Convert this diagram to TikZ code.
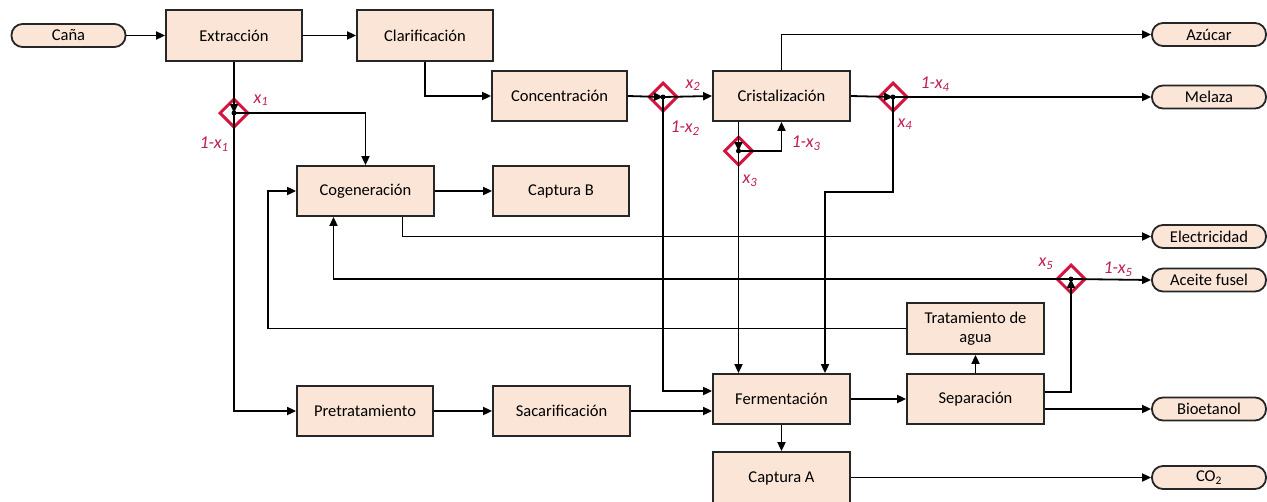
\documentclass[tikz,border=0pt]{standalone}
\usepackage{fontspec}
\setmainfont{Carlito}
\usetikzlibrary{arrows.meta,shapes.geometric,calc}
\definecolor{boxfill}{RGB}{251,229,214}
\definecolor{splitred}{RGB}{212,20,62}
\definecolor{lblred}{RGB}{192,30,78}
\begin{document}
\begin{tikzpicture}[x=1pt,y=-1pt,
  font=\fontsize{16.5}{19.5}\selectfont,
  proc/.style={draw=black!85, line width=1.8pt, fill=boxfill, minimum width=137pt, minimum height=50pt, inner sep=0pt, align=center},
  term/.style={draw=black!85, line width=1.8pt, fill=boxfill, rounded corners=11pt, minimum width=114pt, minimum height=23pt, inner sep=0pt},
  split/.style={diamond, draw=splitred, line width=3pt, minimum width=29pt, minimum height=29pt, inner sep=0pt},
  flow/.style={line width=1.8pt, -{Triangle[length=9pt,width=8pt]}},
  lbl/.style={text=lblred, font=\fontsize{18}{20}\selectfont\itshape, inner sep=0pt},
  dot/.style={circle, fill=black, minimum size=5pt, inner sep=0pt}]
\useasboundingbox (0,0) rectangle (1267,501);

% process boxes
\node[term] (cana) at (68.5,35.5) {Caña};
\node[proc, minimum width=136pt, minimum height=51pt] (extr) at (234,35.5) {Extracción};
\node[proc, minimum width=136pt, minimum height=51pt] (clar) at (425,35.5) {Clarificación};
\node[proc, minimum width=135pt] (conc) at (559.5,96) {Concentración};
\node[proc] (cris) at (781.5,96) {Cristalización};
\node[proc] (cogen) at (365.5,191) {Cogeneración};
\node[proc, minimum width=136pt] (captB) at (561,191) {Captura B};
\node[proc, minimum height=51pt] (trat) at (975.5,328.5) {Tratamiento de\\agua};
\node[proc] (ferm) at (781.5,399) {Fermentación};
\node[proc] (sep) at (975.5,399) {Separación};
\node[proc, minimum width=136pt] (pretr) at (365,411) {Pretratamiento};
\node[proc] (sacar) at (561.5,411) {Sacarificación};
\node[proc, minimum height=52pt] (captA) at (781.5,478) {Captura A};

% terminals
\node[term] (azucar) at (1209,34.5) {Azúcar};
\node[term] (melaza) at (1209,97) {Melaza};
\node[term] (elec) at (1209,236.5) {Electricidad};
\node[term] (aceite) at (1209,280) {Aceite fusel};
\node[term] (bioet) at (1209,409) {Bioetanol};
\node[term] (co2) at (1209,477.5) {CO\textsubscript{2}};

% splitters
\node[split] (d1) at (234,113) {};
\node[split] (d2) at (663,97) {};
\node[split] (d3) at (738.5,151) {};
\node[split] (d4) at (893,97) {};
\node[split] (d5) at (1071,279) {};

% helper coordinates
\coordinate (k4) at (825,192);
\coordinate (k6) at (268,328.5);

% connectors
\draw[flow] (cana.east) -- (extr.west);
\draw[flow] (extr.east) -- (clar.west);
\draw[flow] (clar.south) |- (conc.west);
\draw[flow] (extr.south) -- (d1.center);
\draw[flow] (d1.center) -| (cogen.north);
\draw[flow] (d1.center) |- (pretr.west);
\draw[flow] (pretr.east) -- (sacar.west);
\draw[flow] (conc.east) -- (d2.center);
\draw[flow] (d2.center) -- (cris.west);
\draw[flow] (d2.center) |- ([yshift=8pt]ferm.west);
\draw[flow] (sacar.east) -- (sacar.east -| ferm.west);
\draw[flow] (cris.north) |- (azucar.west);
\draw[flow] (cris.east) -- (d4.center);
\draw[flow] (d4.center) -- (melaza.west);
\draw[flow] (d4.center) |- (k4) -- (k4 |- ferm.north);
\draw[flow] (d3.center |- cris.south) -- (d3.center);
\draw[flow] (d3.center) -| (cris.south);
\draw[flow] (d3.center) -- (d3.center |- ferm.north);
\draw[flow] (cogen.east) -- (captB.west);
\draw[flow] ([xshift=37pt]cogen.south) |- (elec.west);
\draw[flow] ([yshift=7pt]sep.east) -| (d5.center);
\draw[flow] (d5.center) -- (aceite.west);
\draw[flow] (d5.center) -| ([xshift=-32pt]cogen.south);
\draw[flow] (trat.west) -- (trat.west -| k6) |- (cogen.west);
\draw[flow] (sep.north) -- (trat.south);
\draw[flow] (ferm.east) -- (sep.west);
\draw[flow] (bioet.west -| sep.east) -- (bioet.west);
\draw[flow] (ferm.south) -- (captA.north);
\draw[flow] (co2.west -| captA.east) -- (co2.west);

% center dots
\foreach \d in {d1,d2,d3,d4,d5} \node[dot] at (\d.center) {};

% split labels
\node[lbl] (l1a) at (261,100) {x\textsubscript{1}};
\node[lbl] (l1b) at (214,144) {1-x\textsubscript{1}};
\node[lbl] (l2a) at (693,85) {x\textsubscript{2}};
\node[lbl] (l2b) at (685,128) {1-x\textsubscript{2}};
\node[lbl] (l3a) at (806,143) {1-x\textsubscript{3}};
\node[lbl] (l3b) at (750,181) {x\textsubscript{3}};
\node[lbl] (l4a) at (935,84) {1-x\textsubscript{4}};
\node[lbl] (l4b) at (905,124) {x\textsubscript{4}};
\node[lbl] (l5a) at (1046,264) {x\textsubscript{5}};
\node[lbl] (l5b) at (1118,269) {1-x\textsubscript{5}};
\end{tikzpicture}
\end{document}
